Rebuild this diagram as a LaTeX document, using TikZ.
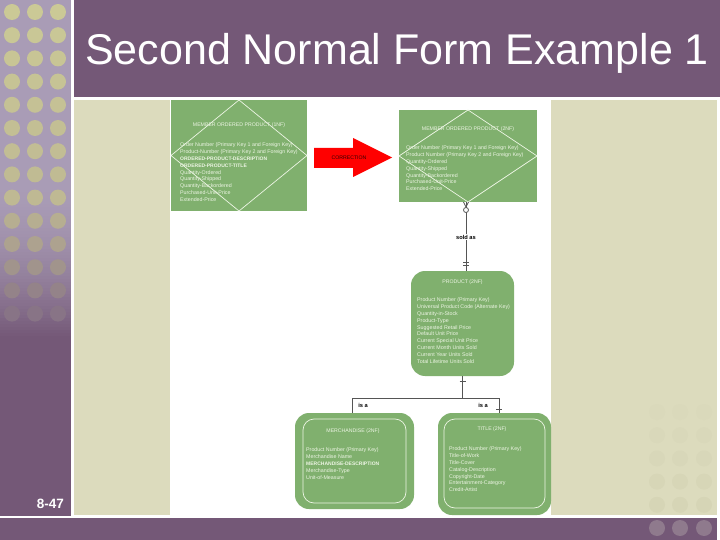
\documentclass[tikz,border=0pt]{standalone}
\usepackage{fontspec}
\setmainfont{Liberation Sans}
\usetikzlibrary{calc}
\definecolor{plum}{HTML}{745877}
\definecolor{stripc}{HTML}{A99CB6}
\definecolor{dotc}{HTML}{CBC996}
\definecolor{dotend}{HTML}{7F6884}
\definecolor{beige}{HTML}{DCDBBD}
\definecolor{dotr}{HTML}{D6D5B6}
\definecolor{dotb}{HTML}{8F7A8D}
\definecolor{erd}{HTML}{80B06E}
\definecolor{pale}{HTML}{EDF5E4}
\definecolor{rule}{HTML}{555555}
\newcommand{\scb}[1]{{\bfseries\fontsize{5}{6.9}\selectfont #1}}
\tikzset{
  x=1pt,y=-1pt,
  rectent/.style={fill=erd,draw=none,minimum width=#1,inner sep=0pt,outer sep=0pt},
  roundent/.style={fill=erd,draw=none,rounded corners=14pt,inner sep=0pt,outer sep=0pt},
  inner line/.style={draw=pale,line width=0.7pt},
  enttitle/.style={text=pale,font=\fontsize{5.2}{6.5}\selectfont,inner sep=0pt},
  attrs/.style={text=pale,anchor=north west,align=left,inner sep=0pt,font=\fontsize{5.3}{6.95}\selectfont},
  rel/.style={draw=rule,line width=1pt},
  rellabel/.style={font=\bfseries\fontsize{5.7}{6}\selectfont,text=black,inner sep=1pt},
  tickm/.style={draw=rule,line width=0.8pt},
}
\begin{document}
\begin{tikzpicture}
\useasboundingbox (0,0) rectangle (720,540);
\fill[white] (0,0) rectangle (720,540);
% slide frame
\fill[stripc] (0,0) rectangle (71,516);
\foreach \yy in {180,183,...,336}{
  \pgfmathtruncatemacro{\pct}{min(100,100*((\yy-180)/155)^1.8)}
  \fill[plum!\pct!stripc] (0,\yy) rectangle (71,\yy+3.5);
}
\fill[plum] (0,336) rectangle (71,516);
\fill[plum] (74,0) rectangle (720,97);
\fill[plum] (0,518) rectangle (717,540);
\fill[beige] (74,100) rectangle (717,515);
\fill[white] (170,100) rectangle (551,516);
\foreach \k/\pct in {0/100,1/98,2/96,3/94,4/92,5/90,6/88,7/86,8/84,9/72,10/60,11/45,12/28,13/12}{
  \foreach \cx in {12,35,58}{
    \fill[dotc!\pct!dotend] (\cx,12+23.2*\k) circle[radius=8];
  }
}
\foreach \k in {0,...,4}{
  \pgfmathtruncatemacro{\pct}{100-(4-\k)*18}
  \foreach \cx in {657,680,704}{
    \fill[dotr!\pct!beige] (\cx,412+23.2*\k) circle[radius=8];
  }
}
\foreach \cx in {657,680,704}{\fill[dotb] (\cx,528) circle[radius=8];}
\node[text=white,anchor=base west,inner sep=0pt,font=\fontsize{43}{50}\selectfont] (title) at (85,65) {Second Normal Form Example 1};
\node[text=white,anchor=base east,inner sep=0pt,font=\bfseries\fontsize{13.5}{16}\selectfont] (page) at (64,508) {8-47};
% left entity
\node[rectent=136pt,minimum height=111pt] (mop1) at (239,155.5) {};
\draw[inner line] (mop1.north) -- (mop1.east) -- (mop1.south) -- (mop1.west) -- cycle;
\node[enttitle] (mop1t) at (239,125.5) {MEMBER ORDERED PRODUCT (1NF)};
\node[attrs] (mop1a) at (180,142.2) {Order Number (Primary Key 1 and Foreign Key)\\Product-Number (Primary Key 2 and Foreign Key)\\\scb{ORDERED-PRODUCT-DESCRIPTION}\\\scb{ORDERED-PRODUCT-TITLE}\\Quantity-Ordered\\Quantity-Shipped\\Quantity-Backordered\\Purchased-Unit-Price\\Extended-Price};
% arrow
\fill[red] (314,148) -- (353,148) -- (353,138) -- (392,157.5) -- (353,177) -- (353,168) -- (314,168) -- cycle;
\node[font=\fontsize{5.2}{6}\selectfont,text=black!80!red,inner sep=0pt] (corrt) at (349,157.5) {CORRECTION};
% right entity
\node[rectent=138pt,minimum height=92pt] (mop2) at (468,156) {};
\draw[inner line] (mop2.north) -- (mop2.east) -- (mop2.south) -- (mop2.west) -- cycle;
\node[enttitle] (mop2t) at (468,129.5) {MEMBER ORDERED PRODUCT (2NF)};
\node[attrs] (mop2a) at (406,145.2) {Order Number (Primary Key 1 and Foreign Key)\\Product Number (Primary Key 2 and Foreign Key)\\Quantity-Ordered\\Quantity-Shipped\\Quantity-Backordered\\Purchased-Unit-Price\\Extended-Price};
% product
\node[roundent,minimum width=103pt,minimum height=105pt] (prod) at (462.5,323.5) {};
\node[enttitle] (prodt) at (462.5,282) {PRODUCT (2NF)};
\node[attrs] (proda) at (417,297.2) {Product Number (Primary Key)\\Universal Product Code (Alternate Key)\\Quantity-in-Stock\\Product-Type\\Suggested Retail Price\\Default Unit Price\\Current Special Unit Price\\Current Month Units Sold\\Current Year Units Sold\\Total Lifetime Units Sold};
% merchandise
\node[roundent,minimum width=119pt,minimum height=96pt] (merch) at (354.5,461) {};
\draw[inner line,rounded corners=11pt] (303,419) rectangle (406,503);
\node[enttitle] (mercht) at (353,431) {MERCHANDISE (2NF)};
\node[attrs] (mercha) at (306,447.2) {Product Number (Primary Key)\\Merchandise Name\\\scb{MERCHANDISE-DESCRIPTION}\\Merchandise-Type\\Unit-of-Measure};
% title
\node[roundent,minimum width=113pt,minimum height=102pt] (titl) at (494.5,464) {};
\draw[inner line,rounded corners=11pt] (444,419) rectangle (545,508);
\node[enttitle] (titlt) at (492,429) {TITLE (2NF)};
\node[attrs] (titla) at (449,446.2) {Product Number (Primary Key)\\Title-of-Work\\Title-Cover\\Catalog-Description\\Copyright-Date\\Entertainment-Category\\Credit-Artist};
% connectors
\node[rellabel] (sold) at (466,237) {sold as};
\coordinate (topc) at (mop2.south -| sold);
\coordinate (botc) at (prod.north -| sold);
\draw[rel] (topc) -- (sold);
\draw[rel] (sold) -- (botc);
\node[circle,draw=rule,fill=white,line width=0.8pt,minimum size=5pt,inner sep=0pt] (opt) at (466,210) {};
\draw[tickm] ($(topc)+(-2.5,0)$) -- ($(topc)+(0,5)$) -- ($(topc)+(2.5,0)$);
\draw[tickm] (463,262.5) -- (469,262.5) (463,265.5) -- (469,265.5);
\coordinate (jct) at (prod.south |- 0,398);
\coordinate (jl) at (352,398);
\coordinate (jr) at (499,398);
\draw[rel] (prod.south) -- (jct);
\draw[rel] (jl |- merch.north) -- (jl) -- (jr) -- (jr |- titl.north);
\draw[tickm] (459.5,381) -- (465.5,381);
\draw[tickm] (496,409) -- (502,409);
\node[rellabel] (isa1) at (363,405) {is a};
\node[rellabel] (isa2) at (483,405) {is a};
\end{tikzpicture}
\end{document}
